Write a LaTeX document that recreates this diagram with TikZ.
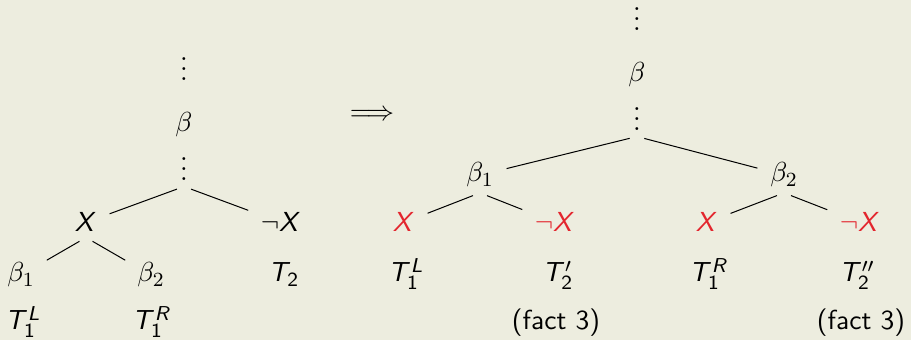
\documentclass[tikz,border=0pt]{standalone}
\usepackage{amsmath}
\usepackage{tikz}
\definecolor{slidebg}{HTML}{EDEDDF}
\definecolor{cutred}{HTML}{E3262E}
\DeclareMathAlphabet{\mathsfsl}{OT1}{cmss}{m}{sl}
\newcommand{\sv}[1]{\mathsfsl{#1}}

\begin{document}
\begin{tikzpicture}[x=0.398pt, y=-0.398pt,
    lbl/.style={anchor=base, inner sep=2pt, font=\fontsize{10.95}{13.6}\selectfont},
    lit/.style={lbl, text=cutred},
    branch/.style={shorten <=3pt, shorten >=3pt}]
  \path[fill=slidebg, use as bounding box] (0,0) rectangle (911,340);

  % tree before the step
  \node[lbl] (ltopdots) at (184,81) {$\vdots$};
  \node[lbl] (lbeta) at (184,132) {$\beta$};
  \node[lbl] (lfork) at (184,181) {$\vdots$};
  \node[lbl] (lx) at (86,232) {$\sv{X}$};
  \node[lbl] (lnx) at (281,232) {$\neg\sv{X}$};
  \node[lbl] (lbo) at (21,282) {$\beta_1$};
  \node[lbl] (lbt) at (151,282) {$\beta_2$};
  \node[lbl] (ltt) at (284,282) {$\sv{T}_{\mathsf{2}}$};
  \node[lbl] (ltl) at (23,330) {$\sv{T}_{\mathsf{1}}^{\sv{L}}$};
  \node[lbl] (ltr) at (152,330) {$\sv{T}_{\mathsf{1}}^{\sv{R}}$};
  \draw[branch] (lfork.south) -- (lx);
  \draw[branch] (lfork.south) -- (lnx);
  \draw[branch] (lx.south) -- (lbo);
  \draw[branch] (lx.south) -- (lbt);

  \node[lbl, anchor=center] (step) at (372,115) {$\Longrightarrow$};

  % tree after the step
  \node[lbl] (rtopdots) at (637,31) {$\vdots$};
  \node[lbl] (rbeta) at (637,82) {$\beta$};
  \node[lbl] (rfork) at (637,131) {$\vdots$};
  \node[lbl] (rbo) at (480,182) {$\beta_1$};
  \node[lbl] (rbt) at (784,182) {$\beta_2$};
  \node[lit] (rxa) at (404,232) {$\sv{X}$};
  \node[lit] (rnxa) at (555,232) {$\neg\sv{X}$};
  \node[lit] (rxb) at (707,232) {$\sv{X}$};
  \node[lit] (rnxb) at (860,232) {$\neg\sv{X}$};
  \node[lbl] (rtla) at (406,282) {$\sv{T}_{\mathsf{1}}^{\sv{L}}$};
  \node[lbl] (rtpa) at (558,282) {$\sv{T}'_{\mathsf{2}}$};
  \node[lbl] (rtrb) at (709,282) {$\sv{T}_{\mathsf{1}}^{\sv{R}}$};
  \node[lbl] (rtpb) at (857,282) {$\sv{T}''_{\mathsf{2}}$};
  \node[lbl] (rfa) at (556,330) {\sffamily (fact 3)};
  \node[lbl] (rfb) at (861,330) {\sffamily (fact 3)};
  \draw[branch] (rfork.south) -- (rbo);
  \draw[branch] (rfork.south) -- (rbt);
  \draw[branch] (rbo.south) -- (rxa);
  \draw[branch] (rbo.south) -- (rnxa);
  \draw[branch] (rbt.south) -- (rxb);
  \draw[branch] (rbt.south) -- (rnxb);
\end{tikzpicture}
\end{document}
